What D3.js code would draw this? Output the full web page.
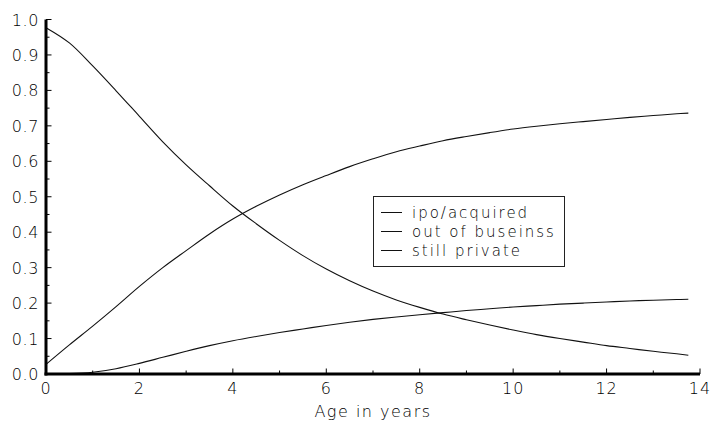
<!DOCTYPE html>
<html><head><meta charset="utf-8">
<script src="https://cdn.jsdelivr.net/npm/d3@7"></script>
<style>
html,body{margin:0;padding:0;background:#fff;}
text{font-family:"DejaVu Sans",sans-serif;font-weight:200;fill:#000;}
</style></head>
<body><svg id="c" width="712" height="423"></svg>
<script>
const ages = [0,0.5,1,1.5,2,2.5,3,3.5,4,4.5,5,5.5,6,6.5,7,7.5,8,8.5,9,9.5,10,10.5,11,11.5,12,12.5,13,13.5,13.75];
const ipoAcquired = [0.027,0.082,0.135,0.19,0.247,0.3,0.348,0.395,0.437,0.473,0.505,0.534,0.56,0.585,0.607,0.627,0.643,0.658,0.67,0.681,0.691,0.699,0.706,0.712,0.718,0.724,0.729,0.734,0.736];
const outOfBusiness = [0.0,0.001,0.005,0.015,0.03,0.047,0.064,0.08,0.094,0.106,0.117,0.127,0.137,0.146,0.154,0.161,0.167,0.173,0.179,0.184,0.189,0.193,0.197,0.2,0.203,0.206,0.208,0.21,0.211];
const stillPrivate = [0.977,0.934,0.869,0.799,0.727,0.655,0.59,0.531,0.474,0.424,0.377,0.334,0.296,0.263,0.234,0.209,0.188,0.169,0.153,0.138,0.124,0.111,0.1,0.09,0.08,0.072,0.064,0.057,0.053];
const seriesNames = ["ipo/acquired","out of buseinss","still private"];
const xTicks = [0,2,4,6,8,10,12,14];
const yTicks = [0,0.1,0.2,0.3,0.4,0.5,0.6,0.7,0.8,0.9,1.0];
const xLabel = "Age in years";

const svg = d3.select("#c");
const x = d3.scaleLinear().domain([0,14]).range([46,700]);
const y = d3.scaleLinear().domain([0,1]).range([374,19.5]);

const line = d3.line().x((d,i)=>x(ages[i])).y(d=>y(d)).curve(d3.curveCatmullRom.alpha(0.5));
[ipoAcquired,outOfBusiness,stillPrivate].forEach(s=>{
  svg.append("path").datum(s).attr("d",line).attr("fill","none").attr("stroke","#111").attr("stroke-width",1.1);
});

// axes
const g = svg.append("g");
const xMinor = d3.range(1,14,2);
g.selectAll(".xm").data(xMinor).enter().append("line")
  .attr("x1",d=>x(d)).attr("x2",d=>x(d)).attr("y1",y(0)).attr("y2",y(0)-3.5)
  .attr("stroke","#000").attr("stroke-width",1);
g.selectAll(".xM").data(xTicks).enter().append("line")
  .attr("x1",d=>x(d)).attr("x2",d=>x(d)).attr("y1",y(0)).attr("y2",y(0)-5.5)
  .attr("stroke","#000").attr("stroke-width",1);
const yMinor = d3.range(0.05,1,0.1);
g.selectAll(".ym").data(yMinor).enter().append("line")
  .attr("y1",d=>y(d)).attr("y2",d=>y(d)).attr("x1",x(0)).attr("x2",x(0)+3.5)
  .attr("stroke","#000").attr("stroke-width",1);
g.selectAll(".yM").data(yTicks).enter().append("line")
  .attr("y1",d=>y(d)).attr("y2",d=>y(d)).attr("x1",x(0)).attr("x2",x(0)+5.5)
  .attr("stroke","#000").attr("stroke-width",1);
g.append("line").attr("x1",x(0)-1.5).attr("x2",x(14)).attr("y1",y(0)).attr("y2",y(0)).attr("stroke","#000").attr("stroke-width",3);
g.append("line").attr("x1",x(0)).attr("x2",x(0)).attr("y1",y(0)+1.5).attr("y2",y(1)).attr("stroke","#000").attr("stroke-width",3);

g.selectAll(".xl").data(xTicks).enter().append("text")
  .attr("x",d=>x(d)).attr("y",394).attr("text-anchor","middle")
  .attr("font-size",16).attr("letter-spacing",1).text(d=>d);
g.selectAll(".yl").data(yTicks).enter().append("text")
  .attr("x",39).attr("y",d=>y(d)+6).attr("text-anchor","end")
  .attr("font-size",16).attr("letter-spacing",0.6).text(d=>d.toFixed(1));
g.append("text").attr("x",(x(0)+x(14))/2).attr("y",417).attr("text-anchor","middle")
  .attr("font-size",16).attr("letter-spacing",1.5).text(xLabel);

// legend
const lg = svg.append("g");
lg.append("rect").attr("x",373.5).attr("y",196.5).attr("width",191).attr("height",70)
  .attr("fill","#fff").attr("stroke","#222").attr("stroke-width",1);
seriesNames.forEach((n,i)=>{
  const yy = 212.5 + i*19;
  lg.append("line").attr("x1",381).attr("x2",402).attr("y1",yy).attr("y2",yy).attr("stroke","#111").attr("stroke-width",1);
  lg.append("text").attr("x",412).attr("y",yy+5).attr("font-size",15).attr("letter-spacing",2).text(n);
});
</script></body></html>
